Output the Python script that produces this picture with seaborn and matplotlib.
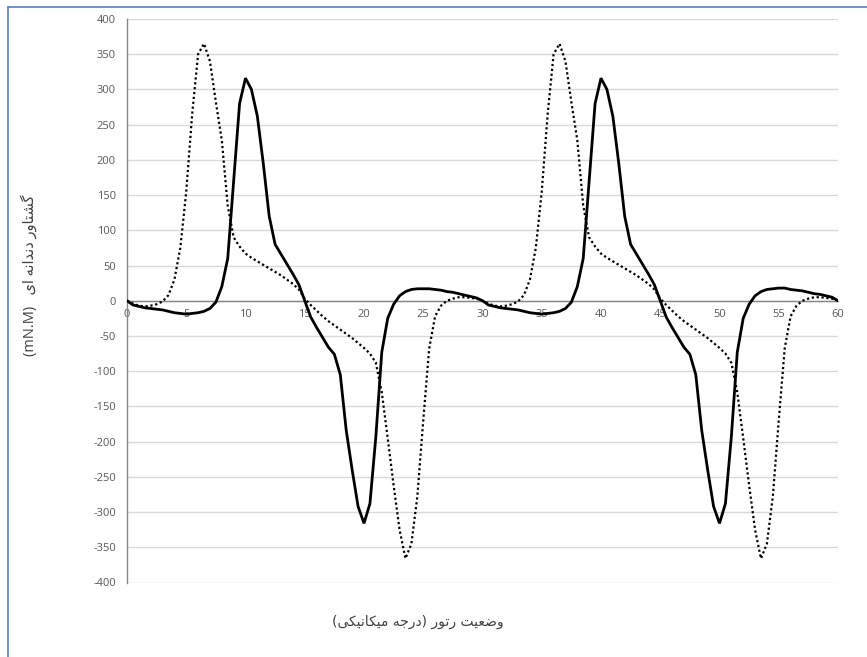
import numpy as np
import pandas as pd
import matplotlib
matplotlib.use("Agg")
import matplotlib.pyplot as plt
from matplotlib.lines import Line2D
import seaborn as sns

# Rotor position in mechanical degrees, sampled every half degree
angle = np.arange(0, 60.5, 0.5)

# Cogging torque, first design (solid line), mN.m
torque_a = [
    0, -6, -8, -10, -11, -12, -13, -15, -17, -18,
    -19, -18, -17, -15, -11, -2, 20, 60, 170, 280,
    316, 300, 262, 195, 120, 80, 66, 52, 38, 23,
    0, -23, -38, -52, -66, -76, -105, -184, -240, -292,
    -316, -288, -193, -73, -25, -5, 7, 13, 16, 17,
    17, 17, 16, 15, 13, 12, 10, 8, 6, 4,
    0, -6, -8, -10, -11, -12, -13, -15, -17, -18,
    -19, -18, -17, -15, -11, -2, 20, 60, 170, 280,
    316, 300, 262, 195, 120, 80, 66, 52, 38, 23,
    0, -23, -38, -52, -66, -76, -105, -184, -240, -292,
    -316, -288, -193, -73, -25, -5, 7, 13, 16, 17,
    18, 18, 16, 15, 14, 12, 10, 9, 7, 5,
    0,
]

# Cogging torque, second design (dotted line), mN.m
torque_b = [
    0, -4, -7, -8, -7, -5, -1, 8, 30, 75,
    155, 265, 350, 365, 340, 282, 228, 135, 90, 77,
    67, 61, 56, 51, 46, 41, 36, 30, 24, 16,
    3, -6, -14, -22, -29, -35, -41, -47, -53, -60,
    -67, -75, -88, -130, -195, -262, -325, -366, -345, -278,
    -170, -68, -22, -7, 0, 3, 5, 5, 4, 3,
    0, -4, -7, -8, -7, -5, -1, 8, 30, 75,
    155, 265, 350, 365, 340, 282, 228, 135, 90, 77,
    67, 61, 56, 51, 46, 41, 36, 30, 24, 16,
    3, -6, -14, -22, -29, -35, -41, -47, -53, -60,
    -67, -75, -88, -130, -195, -262, -325, -366, -345, -278,
    -170, -68, -22, -7, 0, 3, 5, 5, 4, 3,
    0,
]

x_ticks = list(range(0, 61, 5))
y_ticks = list(range(-400, 401, 50))

x_title = "وضعیت رتور (درجه میکانیکی)"
y_title = "گشتاور دندانه ای"
y_unit = "(mN.M)"

# Arabic-script contextual forms: isolated, final, initial, medial
FORMS = {
    "ا": ("\uFE8D", "\uFE8E", None, None),
    "ت": ("\uFE95", "\uFE96", "\uFE97", "\uFE98"),
    "ج": ("\uFE9D", "\uFE9E", "\uFE9F", "\uFEA0"),
    "د": ("\uFEA9", "\uFEAA", None, None),
    "ر": ("\uFEAD", "\uFEAE", None, None),
    "ش": ("\uFEB5", "\uFEB6", "\uFEB7", "\uFEB8"),
    "ض": ("\uFEBD", "\uFEBE", "\uFEBF", "\uFEC0"),
    "ع": ("\uFEC9", "\uFECA", "\uFECB", "\uFECC"),
    "م": ("\uFEE1", "\uFEE2", "\uFEE3", "\uFEE4"),
    "ن": ("\uFEE5", "\uFEE6", "\uFEE7", "\uFEE8"),
    "ه": ("\uFEE9", "\uFEEA", "\uFEEB", "\uFEEC"),
    "و": ("\uFEED", "\uFEEE", None, None),
    "ی": ("\uFBFC", "\uFBFD", "\uFBFE", "\uFBFF"),
    "ک": ("\uFB8E", "\uFB8F", "\uFB90", "\uFB91"),
    "گ": ("\uFB92", "\uFB93", "\uFB94", "\uFB95"),
}
MIRROR = {"(": ")", ")": "("}


def shape_rtl(text):
    """Join letters into their contextual forms and lay them out right-to-left."""
    glyphs = []
    for i, ch in enumerate(text):
        if ch not in FORMS:
            glyphs.append(MIRROR.get(ch, ch))
            continue
        prev = text[i - 1] if i > 0 else ""
        nxt = text[i + 1] if i + 1 < len(text) else ""
        iso, fin, ini, med = FORMS[ch]
        joins_prev = prev in FORMS and FORMS[prev][2] is not None
        joins_next = ini is not None and nxt in FORMS
        if joins_prev and joins_next:
            glyphs.append(med)
        elif joins_prev:
            glyphs.append(fin)
        elif joins_next:
            glyphs.append(ini)
        else:
            glyphs.append(iso)
    return "".join(reversed(glyphs))


df = pd.DataFrame({"angle": angle, "a": torque_a, "b": torque_b})

sns.set_theme(style="white")
plt.rcParams["font.family"] = ["Open Sans", "DejaVu Sans"]
plt.rcParams["axes.unicode_minus"] = False

fig = plt.figure(figsize=(8.67, 6.57), dpi=100)
ax = fig.add_axes([127 / 867, 1 - 582.5 / 657, 711 / 867, 563.5 / 657])

sns.lineplot(data=df, x="angle", y="b", ax=ax, color="black", lw=1.6,
             linestyle=(0, (1, 1.2)), dash_capstyle="butt", zorder=3)
sns.lineplot(data=df, x="angle", y="a", ax=ax, color="black", lw=2.0,
             zorder=4, solid_joinstyle="miter")

ax.set_xlim(0, 60)
ax.set_ylim(-400, 400)
ax.set_xticks(x_ticks)
ax.set_xticklabels([str(v) for v in x_ticks])
ax.set_yticks(y_ticks)
ax.set_yticklabels([str(v) for v in y_ticks])

ax.grid(axis="y", color="#d9d9d9", lw=1.0)
ax.grid(axis="x", visible=False)
ax.set_axisbelow(True)

for side in ("top", "right"):
    ax.spines[side].set_visible(False)
ax.spines["left"].set_color("#868686")
ax.spines["left"].set_linewidth(1.0)
ax.spines["bottom"].set_position(("data", 0))
ax.spines["bottom"].set_color("#868686")
ax.spines["bottom"].set_linewidth(1.0)

ax.tick_params(axis="both", which="major", direction="out", length=4, width=1,
               color="#868686", labelsize=8, labelcolor="#595959")
ax.tick_params(axis="x", pad=2)
ax.tick_params(axis="y", pad=4)
ax.set_xlabel("")
ax.set_ylabel("")

fig.text(418 / 867, 1 - 622 / 657, shape_rtl(x_title), ha="center", va="center",
         fontsize=10, color="#404040", family=["DejaVu Sans"])
fig.text(29 / 867, 1 - 275 / 657, y_unit + "   " + shape_rtl(y_title),
         ha="center", va="center", rotation=90, fontsize=10.5, color="#404040",
         family=["Open Sans", "DejaVu Sans"])

# chart area frame
frame = dict(color="#5a7fc4", lw=1.2, transform=fig.transFigure)
fig.add_artist(Line2D([8 / 867, 1.0], [1 - 7 / 657, 1 - 7 / 657], **frame))
fig.add_artist(Line2D([8 / 867, 8 / 867], [1 - 7 / 657, 0.0], **frame))

fig.savefig("out.png", dpi=100, facecolor="white")
